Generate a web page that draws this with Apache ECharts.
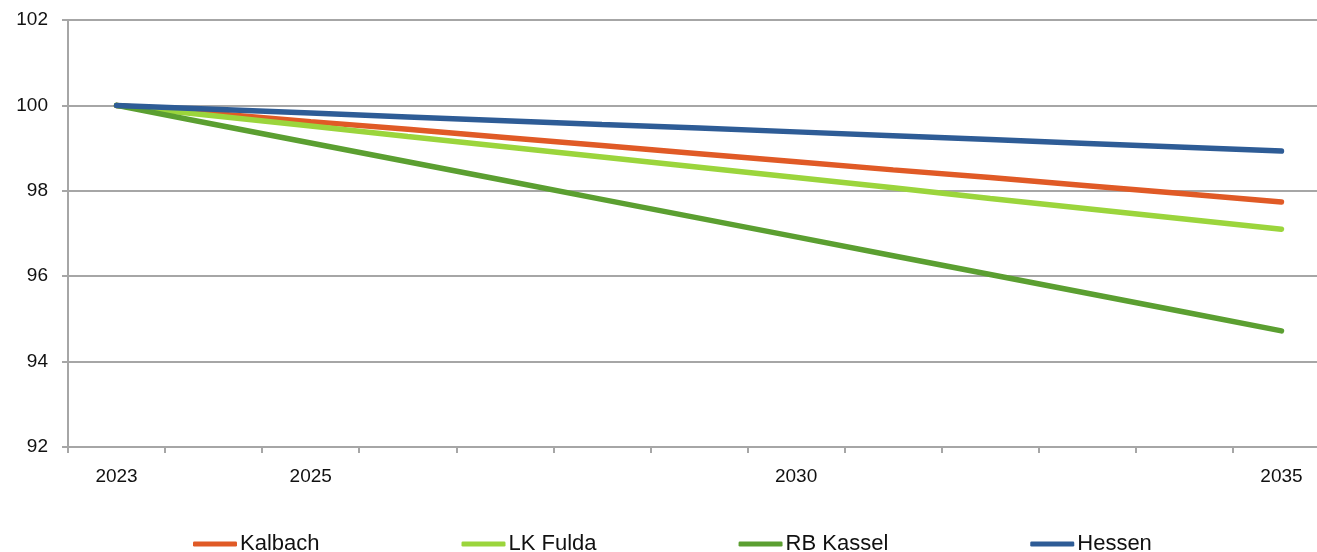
<!DOCTYPE html>
<html>
<head>
<meta charset="utf-8">
<script src="https://cdn.jsdelivr.net/npm/echarts@6/dist/echarts.min.js"></script>
<style>
html,body{margin:0;padding:0;background:#fff;overflow:hidden;width:1317px;height:552px;}
#chart{width:1330px;height:552px;}
</style>
</head>
<body>
<div id="chart"></div>
<script>
const years = ['2023','2024','2025','2026','2027','2028','2029','2030','2031','2032','2033','2034','2035'];
const shownYearLabels = ['2023','2025','2030','2035'];
const yTicks = [92, 94, 96, 98, 100, 102];

const kalbach  = [100, 99.81, 99.62, 99.44, 99.25, 99.06, 98.87, 98.68, 98.49, 98.31, 98.12, 97.93, 97.74];
const lkFulda  = [100, 99.76, 99.52, 99.27, 99.03, 98.79, 98.55, 98.31, 98.07, 97.82, 97.58, 97.34, 97.10];
const rbKassel = [100, 99.56, 99.12, 98.68, 98.24, 97.80, 97.36, 96.92, 96.48, 96.04, 95.60, 95.16, 94.72];
const hessen   = [100, 99.91, 99.82, 99.73, 99.64, 99.55, 99.47, 99.38, 99.29, 99.20, 99.11, 99.02, 98.93];

const seriesNames = ['Kalbach', 'LK Fulda', 'RB Kassel', 'Hessen'];
const seriesData = [kalbach, lkFulda, rbKassel, hessen];
const colors = ['#E05A26', '#9BD53C', '#5B9F31', '#2E5C96'];

const chart = echarts.init(document.getElementById('chart'), null, {renderer: 'canvas'});
const font = 'Liberation Sans, Arial, sans-serif';
const gridColor = '#a6a6a6';

chart.setOption({
  animation: false,
  color: colors,
  grid: {left: 68, right: 0, top: 20, bottom: 105, containLabel: false, outerBoundsMode: 'none'},
  xAxis: {
    type: 'category',
    data: years,
    boundaryGap: true,
    axisLine: {lineStyle: {color: gridColor, width: 2}},
    axisTick: {show: true, interval: 0, length: 6, lineStyle: {color: gridColor, width: 2}},
    axisLabel: {
      interval: function (idx, val) { return shownYearLabels.indexOf(val) >= 0; },
      color: '#111', fontFamily: font, fontSize: 19, margin: 20
    },
    splitLine: {show: false}
  },
  yAxis: {
    type: 'value',
    min: yTicks[0],
    max: yTicks[yTicks.length - 1],
    interval: 2,
    axisLine: {show: true, lineStyle: {color: gridColor, width: 2}},
    axisTick: {show: true, length: 6, lineStyle: {color: gridColor, width: 2}},
    axisLabel: {color: '#111', fontFamily: font, fontSize: 19, margin: 20},
    splitLine: {show: true, lineStyle: {color: gridColor, width: 2}}
  },
  legend: {
    data: seriesNames,
    left: 188,
    top: 528,
    itemGap: 142,
    itemWidth: 44,
    itemHeight: 5,
    icon: 'roundRect',
    textStyle: {color: '#111', fontFamily: font, fontSize: 22, padding: [0,0,0,-2]}
  },
  series: seriesNames.map((n, i) => ({
    name: n,
    type: 'line',
    data: seriesData[i],
    symbol: 'none',
    lineStyle: {width: 5.5, color: colors[i], cap: 'round'},
    itemStyle: {color: colors[i]},
    z: 2 + i
  }))
});
</script>
</body>
</html>
